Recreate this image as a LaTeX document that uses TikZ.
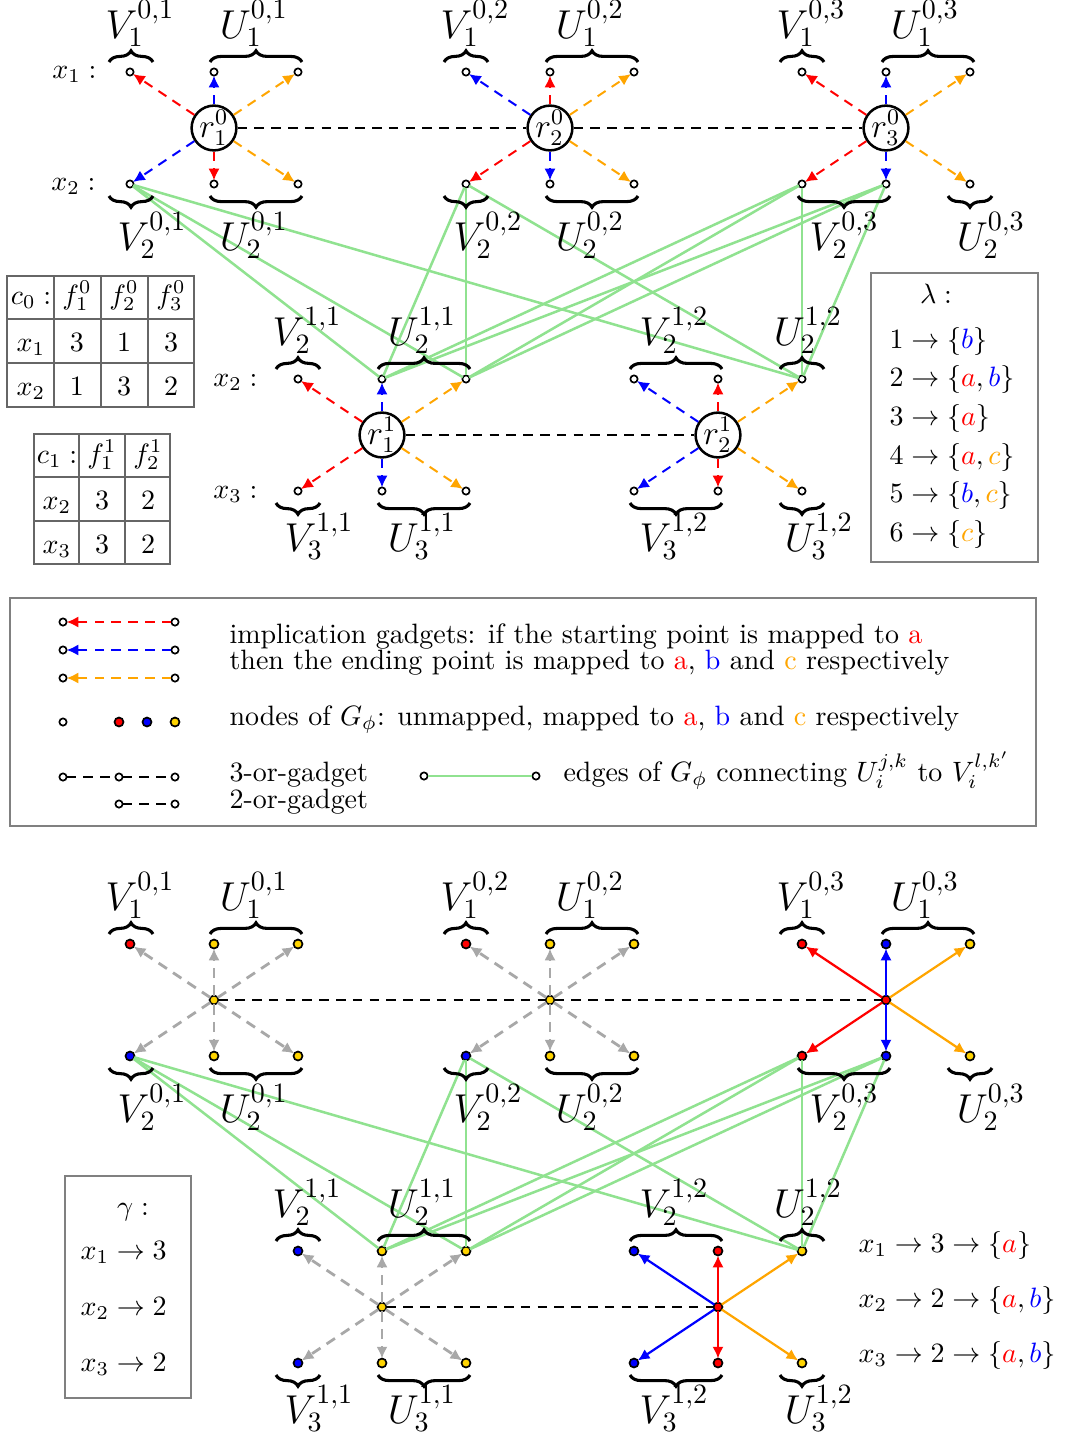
\documentclass[tikz,border=0pt]{standalone}
\usetikzlibrary{arrows.meta,decorations.pathreplacing}
\definecolor{myyellow}{RGB}{255,212,0}
\definecolor{myorange}{RGB}{255,165,0}
\definecolor{mygreen}{RGB}{144,226,144}
\definecolor{mygray}{RGB}{168,168,168}
\definecolor{boxgray}{RGB}{128,128,128}
\begin{document}
\begin{tikzpicture}[x=0.35714pt,y=-0.35714pt,
  pt/.style={circle,draw=black,fill=white,line width=0.6pt,minimum size=2.6pt,inner sep=0pt,outer sep=0pt},
  cpt/.style={pt,minimum size=3.2pt},
  rn/.style={circle,draw=black,line width=0.9pt,minimum size=16pt,inner sep=-4pt,fill=white,font=\large},
  tip/.style={-{Latex[length=4.2pt,width=4pt]}},
  imp/.style={tip,line width=0.7pt,dash pattern=on 3.4pt off 2.6pt},
  gimp/.style={tip,line width=1pt,dash pattern=on 3.6pt off 2.6pt,color=mygray},
  simp/.style={tip,line width=0.8pt},
  orline/.style={line width=0.8pt,dash pattern=on 3.4pt off 2.6pt},
  gedge/.style={draw=mygreen,line width=0.9pt},
  brc/.style={decorate,decoration={brace,amplitude=4pt},line width=1.1pt},
  lab/.style={font=\Large,anchor=base,inner sep=0pt},
  txt/.style={anchor=base west,inner sep=0pt},
  ctxt/.style={anchor=base,inner sep=0pt},
  frame/.style={draw=boxgray,line width=0.6pt},
  tab/.style={draw=black!60,line width=0.6pt}
]
\useasboundingbox (0,0) rectangle (1068,1436);

% ---------------- top half: gadgets of c0 ----------------
\foreach \k/\cx/\qa/\qb/\qc/\qd/\qe/\qf in {1/214/red/blue/myorange/blue/red/myorange,2/550/blue/red/myorange/red/blue/myorange,3/886/red/blue/myorange/red/blue/myorange}{
  \node[rn] (ur\k) at (\cx,128) {$r_{\k}^{0}$};
  \node[pt] (ua\k) at (\cx-84,72) {};
  \node[pt] (ub\k) at (\cx,72) {};
  \node[pt] (uc\k) at (\cx+84,72) {};
  \node[pt] (ud\k) at (\cx-84,184) {};
  \node[pt] (ue\k) at (\cx,184) {};
  \node[pt] (uf\k) at (\cx+84,184) {};
  \draw[imp,color=\qa] (ur\k) -- (ua\k);
  \draw[imp,color=\qb] (ur\k) -- (ub\k);
  \draw[imp,color=\qc] (ur\k) -- (uc\k);
  \draw[imp,color=\qd] (ur\k) -- (ud\k);
  \draw[imp,color=\qe] (ur\k) -- (ue\k);
  \draw[imp,color=\qf] (ur\k) -- (uf\k);
}
% top half: gadgets of c1
\foreach \k/\cx/\qa/\qb/\qc/\qd/\qe/\qf in {1/382/red/blue/myorange/red/blue/myorange,2/718/blue/red/myorange/blue/red/myorange}{
  \node[rn] (usr\k) at (\cx,435) {$r_{\k}^{1}$};
  \node[pt] (usa\k) at (\cx-84,379) {};
  \node[pt] (usb\k) at (\cx,379) {};
  \node[pt] (usc\k) at (\cx+84,379) {};
  \node[pt] (usd\k) at (\cx-84,491) {};
  \node[pt] (use\k) at (\cx,491) {};
  \node[pt] (usf\k) at (\cx+84,491) {};
  \draw[imp,color=\qa] (usr\k) -- (usa\k);
  \draw[imp,color=\qb] (usr\k) -- (usb\k);
  \draw[imp,color=\qc] (usr\k) -- (usc\k);
  \draw[imp,color=\qd] (usr\k) -- (usd\k);
  \draw[imp,color=\qe] (usr\k) -- (use\k);
  \draw[imp,color=\qf] (usr\k) -- (usf\k);
}

% ---------------- bottom half ----------------
\foreach \k/\cx/\pz/\pa/\pb/\pc/\pd/\pe/\pf/\st/\qa/\qb/\qc/\qd/\qe/\qf in {
 1/214/myyellow/red/myyellow/myyellow/blue/myyellow/myyellow/gimp/mygray/mygray/mygray/mygray/mygray/mygray,
 2/550/myyellow/red/myyellow/myyellow/blue/myyellow/myyellow/gimp/mygray/mygray/mygray/mygray/mygray/mygray,
 3/886/red/red/blue/myyellow/red/blue/myyellow/simp/red/blue/myorange/red/blue/myorange}{
  \node[cpt,fill=\pz] (wr\k) at (\cx,1000) {};
  \node[cpt,fill=\pa] (wa\k) at (\cx-84,944) {};
  \node[cpt,fill=\pb] (wb\k) at (\cx,944) {};
  \node[cpt,fill=\pc] (wc\k) at (\cx+84,944) {};
  \node[cpt,fill=\pd] (wd\k) at (\cx-84,1056) {};
  \node[cpt,fill=\pe] (we\k) at (\cx,1056) {};
  \node[cpt,fill=\pf] (wf\k) at (\cx+84,1056) {};
  \draw[\st,color=\qa] (wr\k) -- (wa\k);
  \draw[\st,color=\qb] (wr\k) -- (wb\k);
  \draw[\st,color=\qc] (wr\k) -- (wc\k);
  \draw[\st,color=\qd] (wr\k) -- (wd\k);
  \draw[\st,color=\qe] (wr\k) -- (we\k);
  \draw[\st,color=\qf] (wr\k) -- (wf\k);
}
\foreach \k/\cx/\pz/\pa/\pb/\pc/\pd/\pe/\pf/\st/\qa/\qb/\qc/\qd/\qe/\qf in {
 1/382/myyellow/blue/myyellow/myyellow/blue/myyellow/myyellow/gimp/mygray/mygray/mygray/mygray/mygray/mygray,
 2/718/red/blue/red/myyellow/blue/red/myyellow/simp/blue/red/myorange/blue/red/myorange}{
  \node[cpt,fill=\pz] (wsr\k) at (\cx,1307) {};
  \node[cpt,fill=\pa] (wsa\k) at (\cx-84,1251) {};
  \node[cpt,fill=\pb] (wsb\k) at (\cx,1251) {};
  \node[cpt,fill=\pc] (wsc\k) at (\cx+84,1251) {};
  \node[cpt,fill=\pd] (wsd\k) at (\cx-84,1363) {};
  \node[cpt,fill=\pe] (wse\k) at (\cx,1363) {};
  \node[cpt,fill=\pf] (wsf\k) at (\cx+84,1363) {};
  \draw[\st,color=\qa] (wsr\k) -- (wsa\k);
  \draw[\st,color=\qb] (wsr\k) -- (wsb\k);
  \draw[\st,color=\qc] (wsr\k) -- (wsc\k);
  \draw[\st,color=\qd] (wsr\k) -- (wsd\k);
  \draw[\st,color=\qe] (wsr\k) -- (wse\k);
  \draw[\st,color=\qf] (wsr\k) -- (wsf\k);
}

% ---------------- shared: or-gadgets, green edges, braces ----------------
\foreach \p/\dy in {u/0,w/872}{
  \draw[orline] (\p r1) -- (\p r2) -- (\p r3);
  \draw[orline] (\p sr1) -- (\p sr2);
  \foreach \s in {d1,d2,d3,e3}{
    \foreach \t in {sb1,sc1,sc2}{
      \draw[gedge] (\p\s) -- (\p\t);
    }
  }
  % braces row 1 (top)
  \draw[brc] (109,62+\dy) -- (153,62+\dy);
  \draw[brc] (210,62+\dy) -- (302,62+\dy);
  \draw[brc] (444,62+\dy) -- (488,62+\dy);
  \draw[brc] (546,62+\dy) -- (638,62+\dy);
  \draw[brc] (780,62+\dy) -- (824,62+\dy);
  \draw[brc] (882,62+\dy) -- (974,62+\dy);
  \node[lab] (\p lV1a) at (140,38+\dy) {$V_1^{0,1}$};
  \node[lab] (\p lU1a) at (254,38+\dy) {$U_1^{0,1}$};
  \node[lab] (\p lV1b) at (475,38+\dy) {$V_1^{0,2}$};
  \node[lab] (\p lU1b) at (590,38+\dy) {$U_1^{0,2}$};
  \node[lab] (\p lV1c) at (811,38+\dy) {$V_1^{0,3}$};
  \node[lab] (\p lU1c) at (925,38+\dy) {$U_1^{0,3}$};
  % braces row 1 (bottom)
  \draw[brc] (153,196+\dy) -- (109,196+\dy);
  \draw[brc] (302,196+\dy) -- (210,196+\dy);
  \draw[brc] (488,196+\dy) -- (444,196+\dy);
  \draw[brc] (638,196+\dy) -- (546,196+\dy);
  \draw[brc] (890,196+\dy) -- (798,196+\dy);
  \draw[brc] (992,196+\dy) -- (948,196+\dy);
  \node[lab] (\p lV2a) at (152,250+\dy) {$V_2^{0,1}$};
  \node[lab] (\p lU2a) at (254,250+\dy) {$U_2^{0,1}$};
  \node[lab] (\p lV2b) at (488,250+\dy) {$V_2^{0,2}$};
  \node[lab] (\p lU2b) at (590,250+\dy) {$U_2^{0,2}$};
  \node[lab] (\p lV2c) at (844,250+\dy) {$V_2^{0,3}$};
  \node[lab] (\p lU2c) at (991,250+\dy) {$U_2^{0,3}$};
  % braces row 2 (top)
  \draw[brc] (276,369+\dy) -- (320,369+\dy);
  \draw[brc] (378,369+\dy) -- (470,369+\dy);
  \draw[brc] (630,369+\dy) -- (722,369+\dy);
  \draw[brc] (780,369+\dy) -- (824,369+\dy);
  \node[lab] (\p lsV2a) at (307,345+\dy) {$V_2^{1,1}$};
  \node[lab] (\p lsU2a) at (422,345+\dy) {$U_2^{1,1}$};
  \node[lab] (\p lsV2b) at (674,345+\dy) {$V_2^{1,2}$};
  \node[lab] (\p lsU2b) at (808,345+\dy) {$U_2^{1,2}$};
  % braces row 2 (bottom)
  \draw[brc] (320,503+\dy) -- (276,503+\dy);
  \draw[brc] (470,503+\dy) -- (378,503+\dy);
  \draw[brc] (722,503+\dy) -- (630,503+\dy);
  \draw[brc] (824,503+\dy) -- (780,503+\dy);
  \node[lab] (\p lsV3a) at (319,551+\dy) {$V_3^{1,1}$};
  \node[lab] (\p lsU3a) at (422,551+\dy) {$U_3^{1,1}$};
  \node[lab] (\p lsV3b) at (674,551+\dy) {$V_3^{1,2}$};
  \node[lab] (\p lsU3b) at (819,551+\dy) {$U_3^{1,2}$};
}

% variable labels (top half)
\node[anchor=base east,inner sep=0pt] (vx1) at (97,78) {$x_1:$};
\node[anchor=base east,inner sep=0pt] (vx2) at (96,190) {$x_2:$};
\node[anchor=base east,inner sep=0pt] (vx2b) at (258,386) {$x_2:$};
\node[anchor=base east,inner sep=0pt] (vx3) at (258,498) {$x_3:$};

% ---------------- tables ----------------
\draw[tab] (7,276) rectangle (194,407);
\draw[tab] (54,276) -- (54,407) (101,276) -- (101,407) (148,276) -- (148,407);
\draw[tab] (7,319) -- (194,319) (7,363) -- (194,363);
\node[ctxt] (t00) at (31,304) {$c_0:$};
\node[ctxt] (t01) at (77,304) {$f_1^0$};
\node[ctxt] (t02) at (124,304) {$f_2^0$};
\node[ctxt] (t03) at (171,304) {$f_3^0$};
\node[ctxt] (t10) at (31,351) {$x_1$};
\node[ctxt] (t11) at (77,351) {$3$};
\node[ctxt] (t12) at (124,351) {$1$};
\node[ctxt] (t13) at (171,351) {$3$};
\node[ctxt] (t20) at (31,395) {$x_2$};
\node[ctxt] (t21) at (77,395) {$1$};
\node[ctxt] (t22) at (124,395) {$3$};
\node[ctxt] (t23) at (171,395) {$2$};

\draw[tab] (34,434) rectangle (170,564);
\draw[tab] (79,434) -- (79,564) (125,434) -- (125,564);
\draw[tab] (34,477) -- (170,477) (34,521) -- (170,521);
\node[ctxt] (s00) at (57,463) {$c_1:$};
\node[ctxt] (s01) at (102,463) {$f_1^1$};
\node[ctxt] (s02) at (148,463) {$f_2^1$};
\node[ctxt] (s10) at (57,509) {$x_2$};
\node[ctxt] (s11) at (102,509) {$3$};
\node[ctxt] (s12) at (148,509) {$2$};
\node[ctxt] (s20) at (57,553) {$x_3$};
\node[ctxt] (s21) at (102,553) {$3$};
\node[ctxt] (s22) at (148,553) {$2$};

% ---------------- lambda box ----------------
\draw[frame] (871,273) rectangle (1038,562);
\node[ctxt] (lam) at (936,303) {$\lambda:$};
\node[txt] (lam1) at (889,348) {$1\to\{\textcolor{blue}{b}\}$};
\node[txt] (lam2) at (889,386) {$2\to\{\textcolor{red}{a},\textcolor{blue}{b}\}$};
\node[txt] (lam3) at (889,425) {$3\to\{\textcolor{red}{a}\}$};
\node[txt] (lam4) at (889,464) {$4\to\{\textcolor{red}{a},\textcolor{myorange}{c}\}$};
\node[txt] (lam5) at (889,502) {$5\to\{\textcolor{blue}{b},\textcolor{myorange}{c}\}$};
\node[txt] (lam6) at (889,541) {$6\to\{\textcolor{myorange}{c}\}$};

% ---------------- legend ----------------
\draw[frame] (10,598) rectangle (1036,826);
\foreach \i/\yy/\cl in {1/622/red,2/650/blue,3/678/myorange}{
  \node[pt] (lL\i) at (63,\yy) {};
  \node[pt] (lR\i) at (175,\yy) {};
  \draw[imp,color=\cl] (lR\i) -- (lL\i);
}
\node[pt] (ln0) at (63,722) {};
\node[cpt,fill=red] (ln1) at (119,722) {};
\node[cpt,fill=blue] (ln2) at (147,722) {};
\node[cpt,fill=myyellow] (ln3) at (175,722) {};
\node[pt] (lo1) at (63,777) {};
\node[pt] (lo2) at (119,777) {};
\node[pt] (lo3) at (175,777) {};
\draw[orline] (lo1) -- (lo2) -- (lo3);
\node[pt] (lt1) at (119,804) {};
\node[pt] (lt2) at (175,804) {};
\draw[orline] (lt1) -- (lt2);
\node[pt] (lg1) at (424,776) {};
\node[pt] (lg2) at (536,776) {};
\draw[gedge] (lg1) -- (lg2);
\node[txt] (tx1) at (229,643) {implication gadgets: if the starting point is mapped to \textcolor{red}{a}};
\node[txt] (tx2) at (229,669) {then the ending point is mapped to \textcolor{red}{a}, \textcolor{blue}{b} and \textcolor{myorange}{c} respectively};
\node[txt] (tx3) at (229,725) {nodes of $G_\phi$: unmapped, mapped to \textcolor{red}{a}, \textcolor{blue}{b} and \textcolor{myorange}{c} respectively};
\node[txt] (tx4) at (229,781) {3-or-gadget};
\node[txt] (tx5) at (229,808) {2-or-gadget};
\node[txt] (tx6) at (563,781) {edges of $G_\phi$ connecting $U_i^{j,k}$ to $V_i^{l,k'}$};

% ---------------- gamma box ----------------
\draw[frame] (65,1176) rectangle (191,1398);
\node[ctxt] (gam) at (133,1215) {$\gamma:$};
\node[txt] (gam1) at (80,1259) {$x_1\to 3$};
\node[txt] (gam2) at (80,1315) {$x_2\to 2$};
\node[txt] (gam3) at (80,1371) {$x_3\to 2$};

% ---------------- right text ----------------
\node[txt] (rt1) at (858,1252) {$x_1\to 3\to\{\textcolor{red}{a}\}$};
\node[txt] (rt2) at (858,1307) {$x_2\to 2\to\{\textcolor{red}{a},\textcolor{blue}{b}\}$};
\node[txt] (rt3) at (858,1362) {$x_3\to 2\to\{\textcolor{red}{a},\textcolor{blue}{b}\}$};
\end{tikzpicture}
\end{document}
